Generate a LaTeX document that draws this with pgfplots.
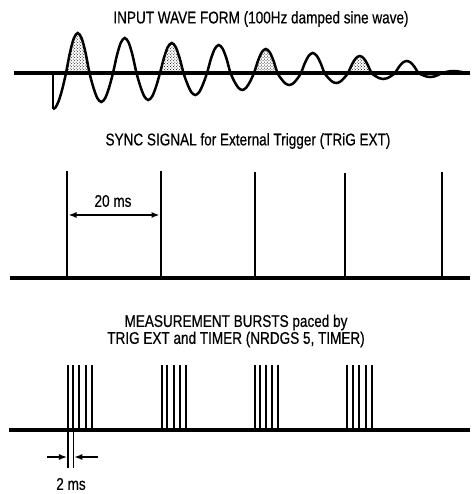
\documentclass[border=0pt]{standalone}
\usepackage{fontspec}
\setmainfont{Liberation Sans}[FakeStretch=0.8, FakeBold=0.5]
\usepackage{pgfplots}
\pgfplotsset{compat=1.18}
\usetikzlibrary{patterns,arrows.meta}
\begin{document}
\begin{tikzpicture}
\begin{axis}[scale only axis, width=470bp, height=494bp,
  xmin=0, xmax=470, ymin=-494, ymax=0, hide axis, clip=false,
  unbounded coords=jump]
\addplot[draw=none] coordinates {(0,0) (470,-494)};
% ---------- panel 1: damped sine ----------
\addplot[draw=none, pattern=crosshatch dots, smooth, y filter/.expression={y-73}] coordinates {(66,0) (69.9,20) (73.8,34.6) (77.75,40) (81.7,34.6) (85.6,20) (89.5,0)} -- cycle;
\addplot[draw=none, pattern=crosshatch dots, smooth, y filter/.expression={y-73}] coordinates {(160,0) (163.9,15) (167.8,26) (171.75,30) (175.7,26) (179.6,15) (183.5,0)} -- cycle;
\addplot[draw=none, pattern=crosshatch dots, smooth, y filter/.expression={y-73}] coordinates {(254,0) (257.9,12) (261.8,20.8) (265.75,24) (269.7,20.8) (273.6,12) (277.5,0)} -- cycle;
\addplot[draw=none, pattern=crosshatch dots, smooth, y filter/.expression={y-73}] coordinates {(348,0) (351.9,8.5) (355.8,14.7) (359.75,17) (363.7,14.7) (367.6,8.5) (371.5,0)} -- cycle;
\addplot[black, line width=3.5bp, y filter/.expression={y-73}] coordinates {(14,0) (470,0)};
\addplot[black, line width=2.5bp, y filter/.expression={y-73}] coordinates {(53,0) (53,-36)};
\addplot[black, line width=2.5bp, smooth, y filter/.expression={y-73}] coordinates {
(53,-36) (55.5,-34.5) (58.5,-28.5) (61.5,-19) (64,-9) (66,0)
(69.9,20) (73.8,34.6) (77.75,40) (81.7,34.6) (85.6,20) (89.5,0)
(93.4,-14.5) (97.3,-25.1) (101.25,-29) (105.2,-25.1) (109.1,-14.5) (113,0)
(116.9,17.5) (120.8,30.3) (124.75,35) (128.7,30.3) (132.6,17.5) (136.5,0)
(140.4,-13.5) (144.3,-23.4) (148.25,-27) (152.2,-23.4) (156.1,-13.5) (160,0)
(163.9,15) (167.8,26) (171.75,30) (175.7,26) (179.6,15) (183.5,0)
(187.4,-11) (191.3,-19.1) (195.25,-22) (199.2,-19.1) (203.1,-11) (207,0)
(210.9,14) (214.8,24.2) (218.75,28) (222.7,24.2) (226.6,14) (230.5,0)
(234.4,-8.5) (238.3,-14.7) (242.25,-17) (246.2,-14.7) (250.1,-8.5) (254,0)
(257.9,12) (261.8,20.8) (265.75,24) (269.7,20.8) (273.6,12) (277.5,0)
(281.4,-6) (285.3,-10.4) (289.25,-12) (293.2,-10.4) (297.1,-6) (301,0)
(304.9,10) (308.8,17.3) (312.75,20) (316.7,17.3) (320.6,10) (324.5,0)
(328.4,-5) (332.3,-8.7) (336.25,-10) (340.2,-8.7) (344.1,-5) (348,0)
(351.9,8.5) (355.8,14.7) (359.75,17) (363.7,14.7) (367.6,8.5) (371.5,0)
(375.4,-3) (379.3,-5.2) (383.25,-6) (387.2,-5.2) (391.1,-3) (395,0)
(398.9,6) (402.8,10.4) (406.75,12) (410.7,10.4) (414.6,6) (418.5,0)
(422.4,-2) (426.3,-3.5) (430.25,-4) (434.2,-3.5) (438.1,-2) (442,0)
(445.9,1) (449.8,1.7) (453.75,2) (457.7,1.7) (461.6,1) (465.5,0) (470,-0.8)};
\node[font=\fontsize{17}{17}\selectfont] at (axis cs:261,-19) {INPUT WAVE FORM (100Hz damped sine wave)};
% ---------- panel 2: sync ----------
\addplot[black, line width=3.5bp] coordinates {(10,-278) (470,-278)};
\addplot[black, line width=2.4bp] coordinates {
(67,-171) (67,-278) (67,nan)
(161,-171) (161,-278) (161,nan)
(255,-172) (255,-278) (255,nan)
(345,-173) (345,-278) (345,nan)
(442,-172) (442,-278)};
\addplot[black, line width=1.5bp, {Latex[length=8bp,width=6bp]}-{Latex[length=8bp,width=6bp]}] coordinates {(68.5,-215) (159.5,-215)};
\node[font=\fontsize{17}{17}\selectfont] at (axis cs:113,-201) {20 ms};
\node[font=\fontsize{17}{17}\selectfont] at (axis cs:248,-141) {SYNC SIGNAL for External Trigger (TRiG EXT)};
% ---------- panel 3: bursts ----------
\addplot[black, line width=3.5bp] coordinates {(9,-430) (470,-430)};
\addplot[black, line width=1.9bp] coordinates {
(68.3,-365) (68.3,-430) (0,nan) (72.7,-365) (72.7,-430) (0,nan) (79.3,-365) (79.3,-430) (0,nan) (86,-365) (86,-430) (0,nan) (92.3,-365) (92.3,-430) (0,nan)
(161.7,-365) (161.7,-430) (0,nan) (166.7,-365) (166.7,-430) (0,nan) (174,-365) (174,-430) (0,nan) (180,-365) (180,-430) (0,nan) (186,-365) (186,-430) (0,nan)
(255,-365) (255,-430) (0,nan) (260,-365) (260,-430) (0,nan) (266,-365) (266,-430) (0,nan) (271.7,-365) (271.7,-430) (0,nan) (278.3,-365) (278.3,-430) (0,nan)
(346.7,-365) (346.7,-430) (0,nan) (353.3,-365) (353.3,-430) (0,nan) (359.3,-365) (359.3,-430) (0,nan) (366,-365) (366,-430) (0,nan) (371.7,-365) (371.7,-430)};
\addplot[black, line width=1.3bp] coordinates {(68,-430) (68,-468) (0,nan) (73.3,-430) (73.3,-468)};
\addplot[black, line width=1.4bp, -{Latex[length=8bp,width=6bp]}] coordinates {(47,-457) (67,-457)};
\addplot[black, line width=1.4bp, -{Latex[length=8bp,width=6bp]}] coordinates {(98,-457) (74.3,-457)};
\node[font=\fontsize{17}{17}\selectfont] at (axis cs:71,-484) {2 ms};
\node[font=\fontsize{17}{17}\selectfont, align=center] at (axis cs:236,-331) {MEASUREMENT BURSTS paced by\\TRIG EXT and TIMER (NRDGS 5, TIMER)};
\end{axis}
\end{tikzpicture}
\end{document}
